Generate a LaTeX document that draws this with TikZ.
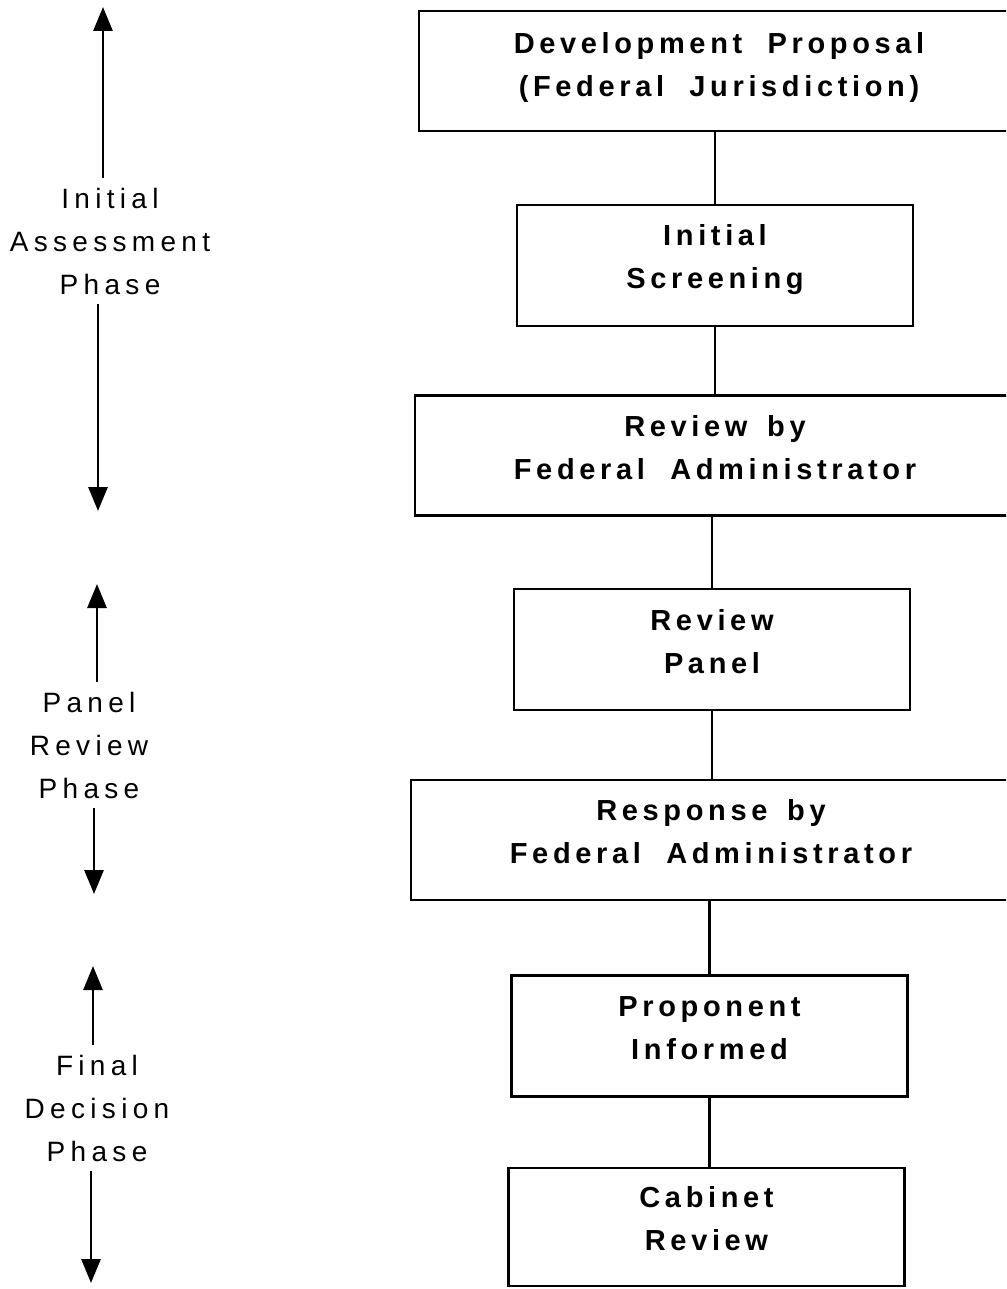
\documentclass[tikz,border=0pt]{standalone}
\usepackage{fontspec}
\setmainfont{Liberation Sans}
\newfontfamily\stagefont[LetterSpace=16]{Liberation Sans}
\newfontfamily\phasefont[LetterSpace=19]{Liberation Sans}
\usetikzlibrary{arrows.meta}
\newcommand{\widegap}{\ \ }
\newcommand{\midgap}{\hspace{7pt} }
\begin{document}
\begin{tikzpicture}[x=1pt,y=-1pt,
  stagebox/.style={draw, line width=2.6pt, rectangle, inner sep=0pt},
  widebox/.style={stagebox, minimum width=600pt, minimum height=120pt},
  narrowbox/.style={stagebox, minimum width=396pt, minimum height=121pt},
  stagetext/.style={inner sep=0pt, align=center,
    font=\stagefont\bfseries\fontsize{29pt}{43pt}\selectfont},
  phasetext/.style={inner sep=0pt, align=center,
    font=\phasefont\fontsize{28pt}{43pt}\selectfont},
  link/.style={line width=2.2pt},
  phasearrow/.style={line width=2.8pt, -{Triangle[length=24pt,width=19pt]}},
]
\useasboundingbox (0,0) rectangle (1006,1289);
\clip (0,0) rectangle (1006,1289);

% process boxes (the wide ones run off the right edge)
\node[widebox]   (b1) at (719,71)    {};
\node[narrowbox] (b2) at (715,265.5) {};
\node[widebox]   (b3) at (715,455.5) {};
\node[narrowbox] (b4) at (712,649.5) {};
\node[widebox]   (b5) at (711,840)   {};
\node[narrowbox] (b6) at (709.5,1036) {};
\node[narrowbox, minimum height=118pt] (b7) at (706.5,1227) {};

% box captions
\node[stagetext] (t1) at ([yshift=3pt]b1.center) {Development\widegap Proposal\\(Federal\widegap Jurisdiction)};
\node[stagetext] (t2) at ([yshift=6pt]b2.center) {Initial\\Screening};
\node[stagetext] (t3) at ([yshift=8pt]b3.center) {Review\midgap by\\Federal\widegap Administrator};
\node[stagetext] (t4) at ([yshift=8pt]b4.center) {Review\\Panel};
\node[stagetext] (t5) at ([yshift=8pt]b5.center) {Response\midgap by\\Federal\widegap Administrator};
\node[stagetext] (t6) at ([yshift=8pt]b6.center) {Proponent\\Informed};
\node[stagetext] (t7) at ([yshift=8pt]b7.center) {Cabinet\\Review};

% links between successive boxes
\draw[link] (b1.south -| b2.north) -- (b2.north);
\draw[link] (b2.south) -- (b2.south |- b3.north);
\draw[link] (b3.south -| b4.north) -- (b4.north);
\draw[link] (b4.south) -- (b4.south |- b5.north);
\draw[link] (b5.south -| b6.north) -- (b6.north);
\draw[link] (b6.south) -- (b6.south |- b7.north);

% phase labels with their extent arrows
\node[phasetext] (p1) at (110,241) {Initial\\Assessment\\Phase};
\coordinate (p1up) at (103,7);
\coordinate (p1dn) at (98,511);
\draw[phasearrow, shorten <=10pt] (p1.north -| p1up) -- (p1up);
\draw[phasearrow, shorten <=10pt] (p1.south -| p1dn) -- (p1dn);

\node[phasetext] (p2) at (89,745) {Panel\\Review\\Phase};
\coordinate (p2up) at (97,584);
\coordinate (p2dn) at (94,894);
\draw[phasearrow, shorten <=10pt] (p2.north -| p2up) -- (p2up);
\draw[phasearrow, shorten <=10pt] (p2.south -| p2dn) -- (p2dn);

\node[phasetext] (p3) at (97,1108) {Final\\Decision\\Phase};
\coordinate (p3up) at (93,966);
\coordinate (p3dn) at (91,1283);
\draw[phasearrow, shorten <=10pt] (p3.north -| p3up) -- (p3up);
\draw[phasearrow, shorten <=10pt] (p3.south -| p3dn) -- (p3dn);
\end{tikzpicture}
\end{document}
